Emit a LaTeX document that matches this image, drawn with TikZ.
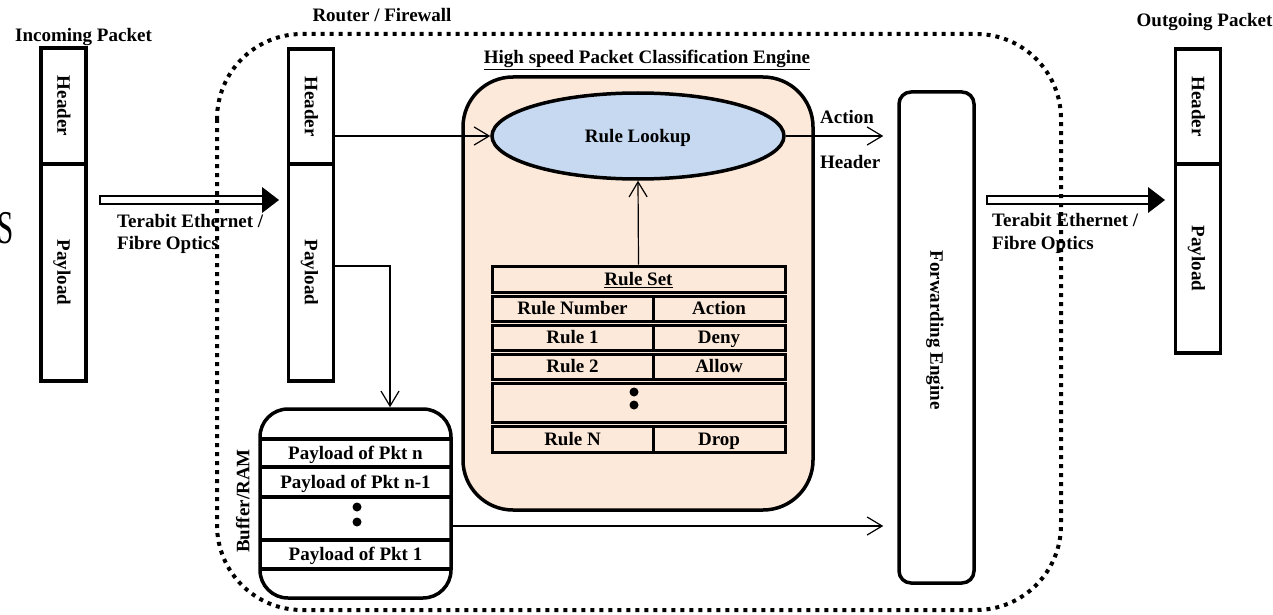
\documentclass[tikz,border=0pt]{standalone}
\usepackage{fontspec}
\setmainfont{Liberation Serif}
\usetikzlibrary{arrows.meta,shapes.geometric,calc}
\definecolor{enginefill}{RGB}{253,233,217}
\definecolor{lookupfill}{RGB}{198,217,241}

\begin{document}
\begin{tikzpicture}[x=1pt,y=-1pt,
  lbl/.style={font=\bfseries\fontsize{19}{22}\selectfont, inner sep=0pt,
              text height=12.5pt, text depth=0pt},
  vtext/.style={lbl, rotate=-90},
  pktbox/.style={draw, line width=3.5pt, minimum width=45pt, inner sep=0pt},
  cell/.style={draw, line width=3pt, lbl},
  thinarrow/.style={line width=1.2pt, -{Straight Barb[length=15pt,width=18pt]}},
  frameline/.style={line width=4pt, dash pattern=on 4pt off 5pt},
  fatshaft/.style={draw, line width=2.5pt, fill=white},
  sepline/.style={line width=4pt}]

\useasboundingbox (0,0) rectangle (1273,615);
\clip (0,0) rectangle (1273,615);

% stray glyph at the left edge
\node[inner sep=0pt, font=\fontsize{47}{50}\selectfont] (sglyph) at (6,228) {\scalebox{0.62}[1]{S}};

% ---------- incoming packet ----------
\node[lbl] (inlbl) at (83.5,35) {Incoming Packet};
\node[pktbox, minimum height=116pt] (inH) at (63.5,106) {};
\node[pktbox, minimum height=217pt] (inP) at (63.5,272.5) {};
\node[vtext] at (inH) {Header};
\node[vtext] at (inP) {Payload};

% ---------- outgoing packet ----------
\node[lbl] (outlbl) at (1204.5,20) {Outgoing Packet};
\node[pktbox, minimum height=115pt] (outH) at (1198,106.5) {};
\node[pktbox, minimum height=189pt] (outP) at (1198,258.5) {};
\node[vtext] at (outH) {Header};
\node[vtext] at (outP) {Payload};

% ---------- link arrows ----------
\draw[fatshaft] (100,196) rectangle (264,204);
\fill (262,187) -- (279,200) -- (262,213) -- cycle;
\node[lbl, anchor=west] (linkL1) at (117,221) {Terabit Ethernet /};
\node[lbl, anchor=west] (linkL2) at (117,243) {Fibre Optics};

\draw[fatshaft] (987,196) rectangle (1150,204);
\fill (1148,187) -- (1165,200) -- (1148,213) -- cycle;
\node[lbl, anchor=west] (linkR1) at (992,220) {Terabit Ethernet /};
\node[lbl, anchor=west] (linkR2) at (992,243) {Fibre Optics};

% ---------- router packet ----------
\node[lbl] (routerlbl) at (382,15) {Router / Firewall};
\node[pktbox, minimum height=115pt] (rH) at (311,106.5) {};
\node[pktbox, minimum height=217pt] (rP) at (311,272.5) {};
\node[vtext] at (rH) {Header};
\node[vtext] at (rP) {Payload};

% ---------- classification engine ----------
\node[lbl] (englbl) at (647,57) {\underline{High speed Packet Classification Engine}};
\node[draw, line width=3.5pt, fill=enginefill, rounded corners=50pt,
      minimum width=350pt, minimum height=433pt] (eng) at (638,293.5) {};
\node[ellipse, draw, line width=3.5pt, fill=lookupfill, inner sep=0pt,
      minimum width=292pt, minimum height=86pt, lbl] (ell) at (638,136) {Rule Lookup};

% rule set table
\node[cell, minimum width=293pt, minimum height=26pt] (rs) at (638.5,279) {\underline{Rule Set}};
\node[cell, minimum width=161pt, minimum height=25pt] (rnA) at (572.5,308.5) {Rule Number};
\node[cell, minimum width=132pt, minimum height=25pt] (rnB) at (719,308.5) {Action};
\node[cell, minimum width=161pt, minimum height=25pt] (r1A) at (572.5,337.5) {Rule 1};
\node[cell, minimum width=132pt, minimum height=25pt] (r1B) at (719,337.5) {Deny};
\node[cell, minimum width=161pt, minimum height=25pt] (r2A) at (572.5,366.5) {Rule 2};
\node[cell, minimum width=132pt, minimum height=25pt] (r2B) at (719,366.5) {Allow};
\node[cell, minimum width=293pt, minimum height=39pt] (rd) at (638.5,402.5) {};
\fill (634,392) circle (4.5pt) (634,405) circle (4.5pt);
\node[cell, minimum width=161pt, minimum height=26pt] (rNA) at (572.5,439) {Rule N};
\node[cell, minimum width=132pt, minimum height=26pt] (rNB) at (719,439) {Drop};

% ---------- buffer ----------
\node[draw, line width=3.5pt, rounded corners=28pt, minimum width=191pt,
      minimum height=189pt] (buf) at (355.5,503.5) {};
\draw[sepline] (261,439) -- (450,439) (261,467) -- (450,467)
               (261,497) -- (450,497) (261,540) -- (450,540) (261,569) -- (450,569);
\node[lbl] (b1) at (355.5,453) {Payload of Pkt n};
\node[lbl] (b2) at (355.5,482) {Payload of Pkt n-1};
\fill (357,507) circle (4.5pt) (357,522) circle (4.5pt);
\node[lbl] (b3) at (355.5,554.5) {Payload of Pkt 1};
\node[lbl, rotate=90] (buflbl) at (243,501) {Buffer/RAM};

% ---------- forwarding engine ----------
\node[draw, line width=3.5pt, rounded corners=12pt, minimum width=75pt,
      minimum height=491pt] (fwd) at (936.5,337.5) {};
\node[vtext] at (936.5,330) {Forwarding Engine};

% ---------- connectors ----------
\draw[thinarrow] ($(rH.east)+(0,29.5)$) -- (ell.west);
\draw[thinarrow] ($(rP.east)+(0,-6.5)$) -| ($(buf.north)+(34.5,0)$);
\draw[thinarrow] (rs.north) -- (ell.south);
\draw[thinarrow, shorten >=14pt] (ell.east) -- (ell.east -| fwd.west);
\draw[thinarrow, shorten >=14pt] ($(buf.east)+(0,22.5)$) coordinate (bo) -- (bo -| fwd.west);
\node[lbl, anchor=west] (actlbl) at (820,117) {Action};
\node[lbl, anchor=west] (hdrlbl) at (820,162) {Header};

% ---------- router boundary ----------
\draw[frameline, rounded corners=85pt] (217,34) rectangle (1061,610);
\end{tikzpicture}
\end{document}
